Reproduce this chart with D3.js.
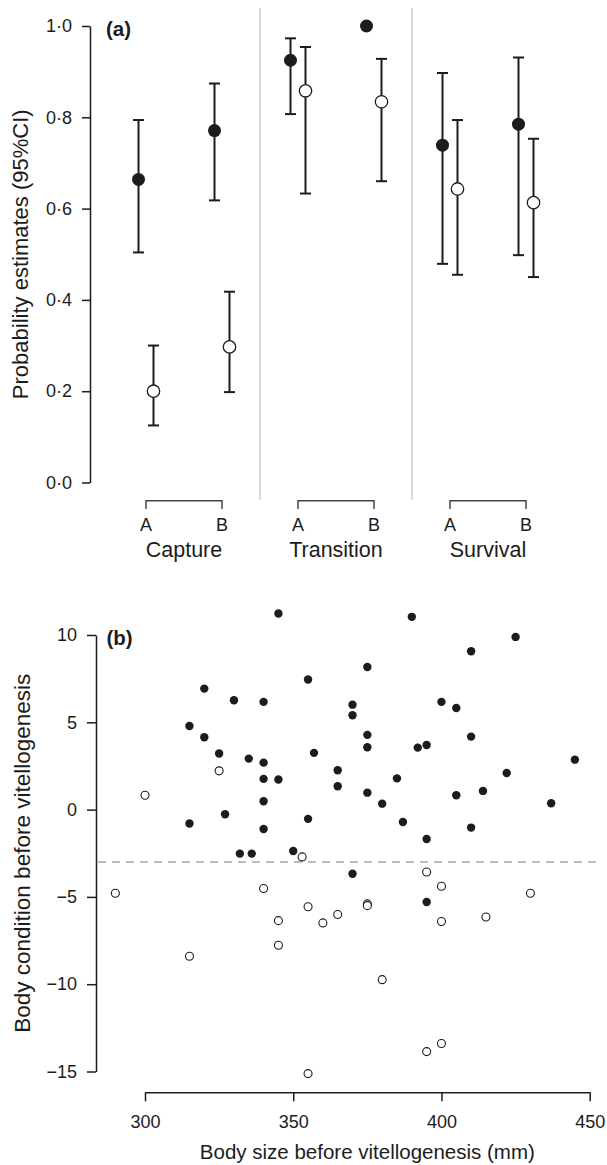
<!DOCTYPE html>
<html>
<head>
<meta charset="utf-8">
<script src="https://cdn.jsdelivr.net/npm/d3@7"></script>
<style>
  html, body { margin: 0; padding: 0; background: #fff; }
  svg { display: block; font-family: "Liberation Sans", Arial, Helvetica, sans-serif; }
</style>
</head>
<body>
<svg id="chart" width="607" height="1165"></svg>
<script>
// ---------- Panel (a) data ----------
const groups = ["Capture", "Transition", "Survival"];
const phases = ["A", "B"];
const categories = ["Capture A", "Capture B", "Transition A", "Transition B", "Survival A", "Survival B"];
const filledEst = [0.664, 0.771, 0.925, 1.000, 0.739, 0.785];
const filledLo  = [0.504, 0.618, 0.807, null,  0.479, 0.498];
const filledHi  = [0.794, 0.874, 0.973, null,  0.897, 0.931];
const openEst   = [0.200, 0.297, 0.858, 0.834, 0.643, 0.613];
const openLo    = [0.125, 0.198, 0.633, 0.660, 0.455, 0.450];
const openHi    = [0.300, 0.418, 0.954, 0.928, 0.794, 0.753];
const probTicks = [0, 0.2, 0.4, 0.6, 0.8, 1.0];

// ---------- Panel (b) data ----------
const filledSize = [345, 320, 330, 340, 355, 315, 320, 325, 335, 340, 357, 340, 345, 340, 315, 327, 340, 355, 332, 336, 350,
                    390, 425, 410, 375, 370, 370, 400, 405, 375, 375, 392, 395, 410, 445, 365, 365, 385, 422, 375, 380, 405, 414, 437, 387, 410, 395,
                    370, 395];
const filledCond = [11.23, 6.93, 6.26, 6.17, 7.45, 4.79, 4.14, 3.21, 2.92, 2.69, 3.25, 1.76, 1.72, 0.48, -0.80, -0.27, -1.11, -0.53, -2.52, -2.52, -2.37,
                    11.04, 9.89, 9.07, 8.17, 6.01, 5.40, 6.17, 5.82, 4.28, 3.57, 3.55, 3.70, 4.18, 2.86, 2.25, 1.34, 1.79, 2.10, 0.97, 0.34, 0.82, 1.07, 0.36, -0.71, -1.03, -1.68,
                    -3.67, -5.29];
const openSize = [325, 300, 353, 290, 315, 340, 355, 345, 345, 360, 355, 395, 400, 375, 375, 365, 400, 415, 430, 380, 395, 400];
const openCond = [2.22, 0.82, -2.71, -4.79, -8.40, -4.52, -5.56, -6.36, -7.77, -6.49, -15.12, -3.57, -4.39, -5.40, -5.50, -6.01, -6.41, -6.15, -4.79, -9.74, -13.86, -13.40];
const sizeTicks = [300, 350, 400, 450];
const condTicks = [-15, -10, -5, 0, 5, 10];
const threshold = -3;

const ink = "#1c1c1c";
const svg = d3.select("#chart");

// ================= Panel (a) =================
const ga = svg.append("g");
const xA = d3.scalePoint().domain(categories).range([146, 526]);
const yA = d3.scaleLinear().domain([0, 1]).range([482.5, 26]);
const off = 7.5;

// separators
const seps = [ (xA(categories[1]) + xA(categories[2])) / 2, (xA(categories[3]) + xA(categories[4])) / 2 ];
ga.selectAll("line.sep").data(seps).join("line")
  .attr("x1", d => d).attr("x2", d => d).attr("y1", 8).attr("y2", 500)
  .attr("stroke", "#d2d2d2").attr("stroke-width", 1.6);

// y axis
const axA = ga.append("g").attr("transform", "translate(90,0)")
  .call(d3.axisLeft(yA).tickValues(probTicks).tickSize(8).tickSizeOuter(0).tickPadding(10)
        .tickFormat(d => d3.format(".1f")(d).replace(".", "\u00B7")));
axA.select(".domain").attr("stroke", ink).attr("stroke-width", 1.5);
axA.selectAll(".tick line").attr("stroke", ink).attr("stroke-width", 1.5);
axA.selectAll(".tick text").attr("fill", ink).style("font-size", "18px");

// y title
ga.append("text")
  .attr("transform", `translate(27.5,${(yA(0) + yA(1)) / 2}) rotate(-90)`)
  .attr("text-anchor", "middle").attr("fill", ink).style("font-size", "22px")
  .text("Probability estimates (95%CI)");

// panel label
ga.append("text").attr("x", 106).attr("y", 35.5).attr("fill", ink)
  .style("font-size", "20.5px").style("font-weight", "bold").text("(a)");

// group brackets and labels
groups.forEach((g, i) => {
  const xa = xA(categories[2 * i]), xb = xA(categories[2 * i + 1]);
  ga.append("path")
    .attr("d", `M${xa},509V500.7H${xb}V509`)
    .attr("fill", "none").attr("stroke", "#444").attr("stroke-width", 1.5);
  phases.forEach((p, j) => {
    ga.append("text").attr("x", j ? xb : xa).attr("y", 531)
      .attr("text-anchor", "middle").attr("fill", ink).style("font-size", "18px").text(p);
  });
  ga.append("text").attr("x", (xa + xb) / 2).attr("y", 557.3)
    .attr("text-anchor", "middle").attr("fill", ink).style("font-size", "21.5px").text(g);
});

// error bars
function errorBars(est, lo, hi, dx) {
  const data = categories.map((c, i) => ({ c, lo: lo[i], hi: hi[i] })).filter(d => d.lo != null);
  const g = ga.append("g").attr("stroke", ink).attr("stroke-width", 2).attr("fill", "none");
  data.forEach(d => {
    const x = xA(d.c) + dx;
    g.append("line").attr("x1", x).attr("x2", x).attr("y1", yA(d.lo)).attr("y2", yA(d.hi));
    g.append("line").attr("x1", x - 5.5).attr("x2", x + 5.5).attr("y1", yA(d.lo)).attr("y2", yA(d.lo));
    g.append("line").attr("x1", x - 5.5).attr("x2", x + 5.5).attr("y1", yA(d.hi)).attr("y2", yA(d.hi));
  });
}
errorBars(filledEst, filledLo, filledHi, -off);
errorBars(openEst, openLo, openHi, off);

ga.selectAll("circle.f").data(filledEst).join("circle")
  .attr("cx", (d, i) => xA(categories[i]) - off).attr("cy", d => yA(d)).attr("r", 6.5)
  .attr("fill", ink);
ga.selectAll("circle.o").data(openEst).join("circle")
  .attr("cx", (d, i) => xA(categories[i]) + off).attr("cy", d => yA(d)).attr("r", 6.2)
  .attr("fill", "#fff").attr("stroke", ink).attr("stroke-width", 1.3);

// ================= Panel (b) =================
const gb = svg.append("g");
const xB = d3.scaleLinear().domain([300, 450]).range([145, 589.7]);
const yB = d3.scaleLinear().domain([-15, 10]).range([1071.5, 635]);

// threshold line
gb.append("line").attr("x1", 98).attr("x2", 596).attr("y1", yB(threshold)).attr("y2", yB(threshold))
  .attr("stroke", "#bdbdbd").attr("stroke-width", 2).attr("stroke-dasharray", "8,6");

// y axis
const ayB = gb.append("g").attr("transform", "translate(96,0)")
  .call(d3.axisLeft(yB).tickValues(condTicks).tickSize(9).tickSizeOuter(0).tickPadding(10));
ayB.select(".domain").attr("stroke", ink).attr("stroke-width", 1.5);
ayB.selectAll(".tick line").attr("stroke", ink).attr("stroke-width", 1.5);
ayB.selectAll(".tick text").attr("fill", ink).style("font-size", "18px");

// x axis
const axB = gb.append("g").attr("transform", "translate(0,1092.3)")
  .call(d3.axisBottom(xB).tickValues(sizeTicks).tickSize(9).tickSizeOuter(0).tickFormat(d3.format("d")));
axB.select(".domain").attr("stroke", ink).attr("stroke-width", 1.5);
axB.selectAll(".tick line").attr("stroke", ink).attr("stroke-width", 1.5);
axB.selectAll(".tick text").attr("fill", ink).style("font-size", "18px").attr("y", 35.7).attr("dy", null);

// titles
gb.append("text")
  .attr("transform", `translate(30,${(yB(-15) + yB(10)) / 2 + 0}) rotate(-90)`)
  .attr("text-anchor", "middle").attr("fill", ink).style("font-size", "22.5px")
  .text("Body condition before vitellogenesis");
gb.append("text").attr("x", (xB(300) + xB(450)) / 2).attr("y", 1159.3)
  .attr("text-anchor", "middle").attr("fill", ink).style("font-size", "20.5px")
  .text("Body size before vitellogenesis (mm)");
gb.append("text").attr("x", 106.5).attr("y", 644.5).attr("fill", ink)
  .style("font-size", "20.5px").style("font-weight", "bold").text("(b)");

// points
gb.selectAll("circle.f").data(filledSize).join("circle")
  .attr("cx", d => xB(d)).attr("cy", (d, i) => yB(filledCond[i])).attr("r", 4.2)
  .attr("fill", ink);
gb.selectAll("circle.o").data(openSize).join("circle")
  .attr("cx", d => xB(d)).attr("cy", (d, i) => yB(openCond[i])).attr("r", 4)
  .attr("fill", "#fff").attr("stroke", ink).attr("stroke-width", 1.1);
</script>
</body>
</html>
